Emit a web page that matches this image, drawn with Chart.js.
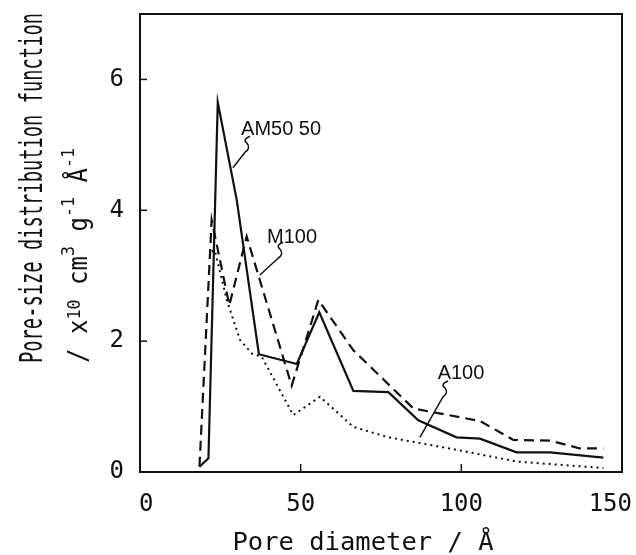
<!DOCTYPE html>
<html>
<head>
<meta charset="utf-8">
<script src="https://cdn.jsdelivr.net/npm/chart.js@4.4.1/dist/chart.umd.min.js"></script>
<style>
  body { margin: 0; background: #fff; }
</style>
</head>
<body>
<canvas id="poreChart" width="636" height="555"></canvas>
<script>
// pore diameter (A) / distribution values
const am5050X = [18.5, 21.3, 24.2, 30.1, 37.0, 48.8, 55.8, 66.4, 77.3, 86.6, 98.5, 105.8, 117.2, 127.6, 144.2];
const am5050Y = [0.08, 0.21, 5.65, 4.16, 1.80, 1.65, 2.44, 1.24, 1.22, 0.79, 0.53, 0.51, 0.30, 0.30, 0.22];

const m100X = [18.5, 22.3, 27.8, 33.2, 47.2, 55.5, 66.4, 85.1, 105.8, 116.2, 127.6, 136.9, 144.2];
const m100Y = [0.08, 3.85, 2.55, 3.60, 1.32, 2.63, 1.86, 0.97, 0.78, 0.49, 0.48, 0.36, 0.36];

const a100X = [22.3, 23.3, 27.0, 31.1, 34.8, 37.9, 47.7, 56.0, 66.4, 77.3, 98.5, 117.2, 144.2];
const a100Y = [3.37, 3.39, 2.63, 2.02, 1.81, 1.76, 0.87, 1.15, 0.69, 0.53, 0.34, 0.16, 0.06];

const xTicks = [0, 50, 100, 150];
const yTicks = [0, 2, 4, 6];

// curve labels: text position and leader (start -> end), in data units
const curveLabels = [
  { text: 'AM50 50', x: 43.9, y: 5.23, from: [33.3, 5.04], to: [28.9, 4.65] },
  { text: 'M100', x: 47.3, y: 3.59, from: [43.6, 3.42], to: [37.3, 3.01] },
  { text: 'A100', x: 99.9, y: 1.50, from: [94.9, 1.30], to: [87.1, 0.53] }
];

const ink = '#111';
const mono = "'DejaVu Sans Mono', monospace";

function toPoints(xs, ys) {
  return xs.map((x, i) => ({ x: x, y: ys[i] }));
}

// rotated y title, squeezed along the text like the original typeface
function drawRun(ctx, parts, baseX, startY, length) {
  let total = 0;
  parts.forEach(p => {
    ctx.font = p.size + 'px ' + mono;
    p.w = ctx.measureText(p.t).width;
    total += p.w;
  });
  ctx.save();
  ctx.translate(baseX, startY);
  ctx.rotate(-Math.PI / 2);
  ctx.scale(length / total, 1);
  ctx.fillStyle = ink;
  ctx.textBaseline = 'alphabetic';
  let pos = 0;
  parts.forEach(p => {
    ctx.font = p.size + 'px ' + mono;
    ctx.fillText(p.t, pos, -(p.raise || 0));
    pos += p.w;
  });
  ctx.restore();
}

const framePlugin = {
  id: 'frame',
  afterDraw(chart) {
    const ctx = chart.ctx;
    const area = chart.chartArea;
    const xs = chart.scales.x;
    const ys = chart.scales.y;

    ctx.save();
    ctx.strokeStyle = ink;
    ctx.lineWidth = 2;
    ctx.strokeRect(area.left, area.top, area.right - area.left, area.bottom - area.top);

    // inward tick marks
    ctx.lineWidth = 1.5;
    xTicks.forEach(v => {
      if (v === xs.min || v === xs.max) return;
      const px = xs.getPixelForValue(v);
      ctx.beginPath();
      ctx.moveTo(px, area.bottom);
      ctx.lineTo(px, area.bottom - 8);
      ctx.stroke();
    });
    yTicks.forEach(v => {
      if (v === ys.min) return;
      const py = ys.getPixelForValue(v);
      ctx.beginPath();
      ctx.moveTo(area.left, py);
      ctx.lineTo(area.left + 7, py);
      ctx.stroke();
    });

    // x tick labels, kept inside the canvas at the ends
    ctx.fillStyle = ink;
    ctx.font = '24px ' + mono;
    ctx.textAlign = 'center';
    ctx.textBaseline = 'alphabetic';
    xTicks.forEach(v => {
      const label = String(v);
      const w = ctx.measureText(label).width;
      let px = xs.getPixelForValue(v);
      px = Math.max(px, area.left - 1 + w / 2);
      px = Math.min(px, chart.width - 4 - w / 2);
      ctx.fillText(label, px, 511);
    });

    // x title
    ctx.font = '25.5px ' + mono;
    ctx.fillText('Pore diameter / Å', 363, 550);

    // curve labels with little squiggle leaders
    ctx.font = "20px 'Liberation Sans', Arial, sans-serif";
    ctx.textBaseline = 'middle';
    ctx.lineWidth = 1.5;
    curveLabels.forEach(l => {
      ctx.fillText(l.text, xs.getPixelForValue(l.x), ys.getPixelForValue(l.y));
      const x0 = xs.getPixelForValue(l.from[0]);
      const y0 = ys.getPixelForValue(l.from[1]);
      const x1 = xs.getPixelForValue(l.to[0]);
      const y1 = ys.getPixelForValue(l.to[1]);
      ctx.beginPath();
      ctx.moveTo(x0 + 3, y0 - 6);
      ctx.quadraticCurveTo(x0 - 5, y0 - 3, x0, y0 + 1);
      ctx.quadraticCurveTo(x0 + 4, y0 + 6, x0 - 2, y0 + 10);
      ctx.lineTo(x1, y1);
      ctx.stroke();
    });
    ctx.restore();

    drawRun(ctx, [{ t: 'Pore-size distribution function', size: 32 }], 42, 363, 350);
    drawRun(ctx, [
      { t: '/ x', size: 26 },
      { t: '10', size: 18, raise: 7 },
      { t: ' cm', size: 26 },
      { t: '3', size: 18, raise: 13 },
      { t: ' g', size: 26 },
      { t: '-1', size: 18, raise: 13 },
      { t: ' Å', size: 26 },
      { t: '-1', size: 18, raise: 13 }
    ], 87, 363, 215);
  }
};

const ctx = document.getElementById('poreChart').getContext('2d');
const chart = new Chart(ctx, {
  type: 'scatter',
  data: {
    datasets: [
      {
        label: 'AM5050',
        data: toPoints(am5050X, am5050Y),
        showLine: true,
        borderColor: ink,
        borderWidth: 2.2,
        pointRadius: 0
      },
      {
        label: 'M100',
        data: toPoints(m100X, m100Y),
        showLine: true,
        borderColor: ink,
        borderWidth: 2.2,
        borderDash: [10, 6],
        pointRadius: 0
      },
      {
        label: 'A100',
        data: toPoints(a100X, a100Y),
        showLine: true,
        borderColor: ink,
        borderWidth: 2,
        borderDash: [2, 4],
        pointRadius: 0
      }
    ]
  },
  options: {
    responsive: false,
    animation: false,
    layout: { padding: { top: 14, right: 14, left: 0, bottom: 0 } },
    plugins: {
      legend: { display: false },
      tooltip: { enabled: false }
    },
    scales: {
      x: {
        type: 'linear',
        min: 0,
        max: 150,
        afterBuildTicks: s => { s.ticks = xTicks.map(v => ({ value: v })); },
        afterFit: s => { s.height = 83; s.paddingLeft = 0; s.paddingRight = 0; },
        grid: { display: false, drawTicks: false },
        border: { display: false },
        ticks: { display: false }
      },
      y: {
        type: 'linear',
        min: 0,
        max: 7,
        afterBuildTicks: s => { s.ticks = yTicks.map(v => ({ value: v })); },
        afterFit: s => { s.width = 140; s.paddingTop = 0; s.paddingBottom = 0; },
        grid: { display: false, drawTicks: false },
        border: { display: false },
        ticks: { padding: 16, color: ink, font: { family: mono, size: 24 } }
      }
    }
  },
  plugins: [framePlugin]
});
</script>
</body>
</html>
